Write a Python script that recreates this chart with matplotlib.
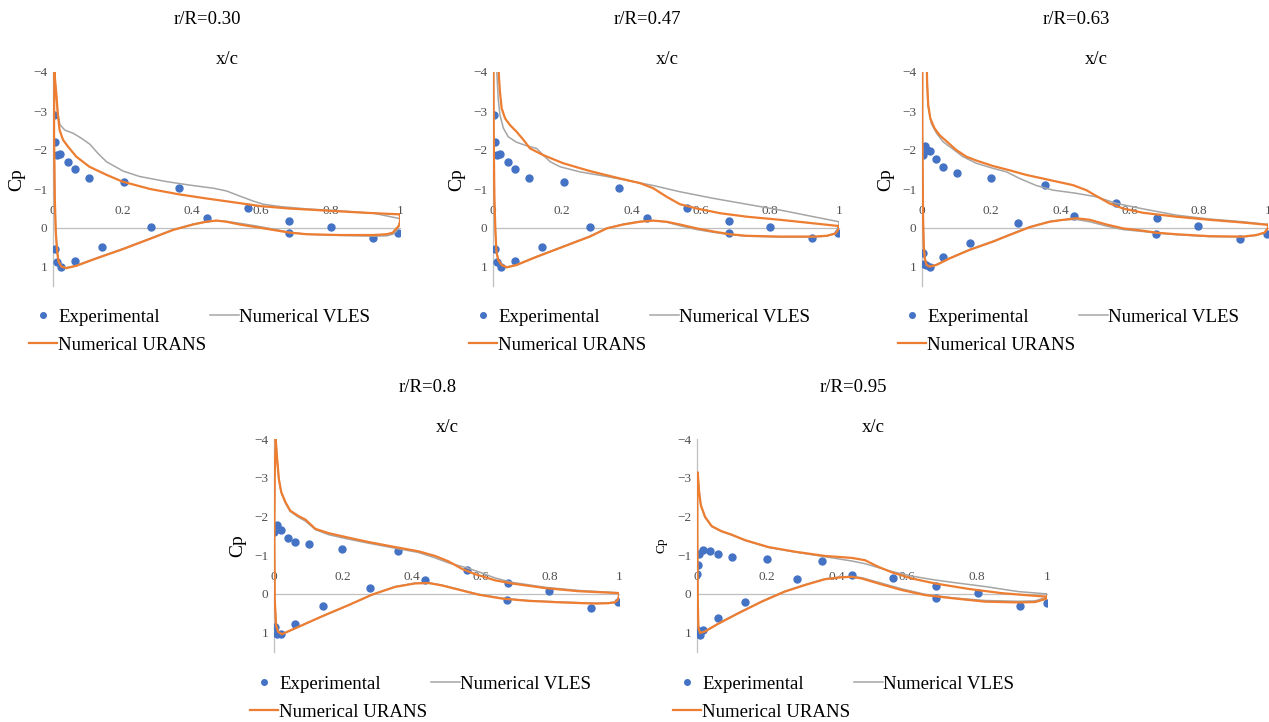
import numpy as np
import matplotlib
matplotlib.use("Agg")
import matplotlib.pyplot as plt
from matplotlib.lines import Line2D

# ---------------- data ----------------
TITLES = ["r/R=0.30", "r/R=0.47", "r/R=0.63", "r/R=0.8", "r/R=0.95"]
X_TICKS = [0, 0.2, 0.4, 0.6, 0.8, 1]
X_TICK_LABELS = ["0", "0.2", "0.4", "0.6", "0.8", "1"]
Y_TICKS = [-4, -3, -2, -1, 0, 1]
Y_TICK_LABELS = ["\u22124", "\u22123", "\u22122", "\u22121", "0", "1"]
LEGEND_LABELS = ["Experimental", "Numerical URANS", "Numerical VLES"]

# r/R = 0.30
EXP_X_30 = [0.002, 0.007, 0.012, 0.021, 0.043, 0.063, 0.104, 0.204, 0.364, 0.561, 0.681, 0.80, 0.995,
            0.922, 0.681, 0.444, 0.281, 0.142, 0.063, 0.022, 0.012, 0.006]
EXP_CP_30 = [-2.91, -2.21, -1.87, -1.91, -1.70, -1.50, -1.28, -1.17, -1.03, -0.50, -0.17, -0.02, 0.14,
             0.25, 0.14, -0.26, -0.02, 0.48, 0.84, 1.00, 0.86, 0.53]
URANS_UP_X_30 = [1.0, 0.90, 0.80, 0.68, 0.60, 0.52, 0.44, 0.365, 0.28, 0.20, 0.155, 0.105, 0.067, 0.043,
                 0.029, 0.019, 0.014, 0.010, 0.006, 0.004]
URANS_UP_CP_30 = [-0.35, -0.39, -0.44, -0.50, -0.56, -0.66, -0.76, -0.86, -1.00, -1.19, -1.36, -1.57, -1.83,
                  -2.09, -2.26, -2.51, -2.90, -3.40, -3.80, -4.00]
URANS_LO_X_30 = [0.003, 0.005, 0.008, 0.012, 0.016, 0.024, 0.038, 0.067, 0.125, 0.202, 0.279, 0.346, 0.404,
                 0.442, 0.471, 0.50, 0.538, 0.587, 0.635, 0.683, 0.731, 0.827, 0.923, 0.962, 0.979, 0.988,
                 0.996, 1.0]
URANS_LO_CP_30 = [-2.5, -0.8, 0.1, 0.61, 0.86, 0.99, 1.03, 0.97, 0.78, 0.54, 0.28, 0.05, -0.09, -0.16,
                  -0.19, -0.16, -0.09, -0.02, 0.05, 0.12, 0.16, 0.18, 0.18, 0.16, 0.12, 0.03, -0.05, -0.15]
VLES_UP_X_30 = [1.0, 0.923, 0.827, 0.731, 0.654, 0.606, 0.577, 0.538, 0.50, 0.462, 0.394, 0.327, 0.25,
                0.202, 0.154, 0.13, 0.106, 0.082, 0.058, 0.034, 0.02, 0.013, 0.008, 0.004]
VLES_UP_CP_30 = [-0.24, -0.38, -0.44, -0.49, -0.55, -0.61, -0.69, -0.82, -0.95, -1.02, -1.10, -1.19, -1.32,
                 -1.46, -1.70, -1.91, -2.15, -2.30, -2.43, -2.51, -2.65, -3.0, -3.5, -4.0]
VLES_LO_X_30 = [0.003, 0.005, 0.008, 0.012, 0.016, 0.024, 0.038, 0.067, 0.125, 0.202, 0.279, 0.346, 0.404,
                0.442, 0.471, 0.50, 0.538, 0.587, 0.635, 0.683, 0.731, 0.827, 0.923, 0.962, 0.979, 0.990,
                0.997, 1.0]
VLES_LO_CP_30 = [-2.5, -0.8, 0.1, 0.6, 0.85, 0.98, 1.02, 0.96, 0.77, 0.53, 0.27, 0.04, -0.10, -0.17,
                 -0.19, -0.17, -0.12, -0.05, 0.03, 0.11, 0.16, 0.19, 0.21, 0.20, 0.16, 0.08, -0.05, -0.20]

# r/R = 0.47
EXP_X_47 = [0.002, 0.007, 0.012, 0.021, 0.043, 0.063, 0.104, 0.204, 0.364, 0.561, 0.681, 0.80, 0.998,
            0.922, 0.681, 0.444, 0.281, 0.142, 0.063, 0.022, 0.012, 0.006]
EXP_CP_47 = [-2.91, -2.21, -1.87, -1.91, -1.70, -1.50, -1.28, -1.17, -1.03, -0.50, -0.17, -0.02, 0.14,
             0.25, 0.14, -0.26, -0.02, 0.48, 0.84, 1.00, 0.86, 0.53]
URANS_UP_X_47 = [1.0, 0.926, 0.83, 0.733, 0.656, 0.589, 0.54, 0.502, 0.463, 0.425, 0.367, 0.28, 0.203,
                 0.145, 0.107, 0.088, 0.068, 0.049, 0.035, 0.025, 0.02, 0.017, 0.015]
URANS_UP_CP_47 = [-0.05, -0.12, -0.21, -0.29, -0.38, -0.50, -0.61, -0.80, -1.02, -1.15, -1.27, -1.46, -1.66,
                  -1.87, -2.04, -2.26, -2.47, -2.64, -2.81, -3.07, -3.5, -3.9, -4.5]
URANS_LO_X_47 = [0.001, 0.002, 0.004, 0.007, 0.010, 0.015, 0.025, 0.040, 0.068, 0.126, 0.203, 0.280, 0.329,
                 0.377, 0.425, 0.463, 0.502, 0.540, 0.589, 0.637, 0.685, 0.733, 0.830, 0.926, 0.964, 0.990,
                 1.0]
URANS_LO_CP_47 = [-4.5, -2.47, -0.76, 0.09, 0.61, 0.82, 0.95, 1.01, 0.95, 0.74, 0.48, 0.22, 0.01, -0.09,
                  -0.16, -0.19, -0.16, -0.09, 0.01, 0.09, 0.16, 0.20, 0.22, 0.22, 0.20, 0.14, 0.02]
VLES_UP_X_47 = [1.0, 0.926, 0.83, 0.733, 0.637, 0.54, 0.463, 0.405, 0.329, 0.251, 0.194, 0.165, 0.145,
                0.126, 0.097, 0.068, 0.044, 0.03, 0.02, 0.015, 0.011, 0.009]
VLES_UP_CP_47 = [-0.16, -0.29, -0.46, -0.61, -0.76, -0.93, -1.09, -1.19, -1.32, -1.44, -1.57, -1.70, -1.87,
                 -2.04, -2.11, -2.20, -2.34, -2.56, -2.90, -3.32, -4.0, -4.5]
VLES_LO_X_47 = [0.001, 0.002, 0.004, 0.007, 0.010, 0.015, 0.025, 0.040, 0.068, 0.126, 0.203, 0.280, 0.329,
                0.377, 0.425, 0.463, 0.502, 0.540, 0.589, 0.637, 0.685, 0.733, 0.830, 0.926, 0.964, 0.990,
                1.0]
VLES_LO_CP_47 = [-4.5, -2.47, -0.76, 0.09, 0.60, 0.81, 0.94, 1.00, 0.94, 0.73, 0.47, 0.21, 0.00, -0.10,
                 -0.17, -0.19, -0.15, -0.06, 0.04, 0.11, 0.17, 0.21, 0.23, 0.23, 0.21, 0.14, -0.10]

# r/R = 0.63
EXP_X_63 = [0.003, 0.010, 0.014, 0.022, 0.041, 0.061, 0.101, 0.198, 0.356, 0.439, 0.560, 0.679, 0.797,
            0.998, 0.918, 0.675, 0.277, 0.140, 0.061, 0.022, 0.012, 0.005, 0.004]
EXP_CP_63 = [-1.87, -2.10, -2.00, -1.97, -1.76, -1.56, -1.42, -1.28, -1.10, -0.32, -0.63, -0.26, -0.06,
             0.16, 0.29, 0.15, -0.12, 0.38, 0.74, 0.99, 0.95, 0.93, 0.63]
URANS_UP_X_63 = [1.0, 0.928, 0.831, 0.735, 0.639, 0.581, 0.542, 0.504, 0.475, 0.436, 0.369, 0.302, 0.253,
                 0.205, 0.157, 0.128, 0.099, 0.07, 0.051, 0.036, 0.024, 0.018, 0.015, 0.013]
URANS_UP_CP_63 = [-0.08, -0.14, -0.21, -0.29, -0.39, -0.50, -0.63, -0.82, -0.97, -1.10, -1.23, -1.36, -1.48,
                  -1.59, -1.73, -1.83, -2.0, -2.23, -2.38, -2.56, -2.81, -3.15, -3.67, -4.5]
URANS_LO_X_63 = [0.001, 0.001, 0.003, 0.005, 0.008, 0.013, 0.022, 0.041, 0.08, 0.138, 0.205, 0.253, 0.311,
                 0.369, 0.408, 0.446, 0.485, 0.533, 0.581, 0.639, 0.677, 0.735, 0.831, 0.928, 0.966, 0.99,
                 1.0]
URANS_LO_CP_63 = [-4.5, -2.47, -0.33, 0.44, 0.78, 0.95, 0.99, 0.95, 0.78, 0.56, 0.35, 0.18, -0.02, -0.16,
                  -0.21, -0.25, -0.21, -0.09, 0.01, 0.07, 0.12, 0.16, 0.21, 0.22, 0.18, 0.12, 0.0]
VLES_UP_X_63 = [1.0, 0.928, 0.831, 0.735, 0.639, 0.562, 0.504, 0.446, 0.379, 0.33, 0.282, 0.244, 0.205,
                0.157, 0.118, 0.09, 0.061, 0.042, 0.027, 0.017, 0.013]
VLES_UP_CP_63 = [-0.09, -0.16, -0.23, -0.33, -0.49, -0.63, -0.80, -0.89, -0.97, -1.09, -1.27, -1.44, -1.53,
                 -1.66, -1.83, -2.02, -2.21, -2.43, -2.68, -3.15, -4.5]
VLES_LO_X_63 = [0.001, 0.001, 0.003, 0.005, 0.008, 0.013, 0.022, 0.041, 0.08, 0.138, 0.205, 0.253, 0.311,
                0.369, 0.408, 0.446, 0.485, 0.533, 0.581, 0.639, 0.677, 0.735, 0.831, 0.928, 0.966, 0.99,
                1.0]
VLES_LO_CP_63 = [-4.5, -2.47, -0.33, 0.44, 0.77, 0.94, 0.98, 0.94, 0.77, 0.55, 0.34, 0.17, -0.03, -0.17,
                 -0.21, -0.22, -0.16, -0.05, 0.04, 0.09, 0.13, 0.17, 0.22, 0.23, 0.19, 0.12, -0.02]

# r/R = 0.8
EXP_X_80 = [0.001, 0.009, 0.020, 0.041, 0.060, 0.102, 0.197, 0.358, 0.438, 0.559, 0.678, 0.797, 0.998,
            0.919, 0.675, 0.279, 0.141, 0.060, 0.021, 0.009, 0.004]
EXP_CP_80 = [-1.60, -1.77, -1.65, -1.44, -1.33, -1.28, -1.17, -1.11, -0.35, -0.61, -0.29, -0.07, 0.22,
             0.36, 0.15, -0.16, 0.31, 0.78, 1.04, 1.04, 0.85]
URANS_UP_X_80 = [1.0, 0.882, 0.786, 0.689, 0.641, 0.583, 0.544, 0.506, 0.467, 0.419, 0.351, 0.274, 0.207,
                 0.158, 0.12, 0.091, 0.071, 0.047, 0.033, 0.021, 0.014, 0.009, 0.005]
URANS_UP_CP_80 = [-0.02, -0.07, -0.15, -0.27, -0.35, -0.51, -0.65, -0.84, -0.98, -1.10, -1.21, -1.34, -1.47,
                  -1.57, -1.68, -1.92, -2.01, -2.15, -2.37, -2.63, -2.97, -3.5, -4.0]
URANS_LO_X_80 = [0.002, 0.001, 0.002, 0.006, 0.012, 0.023, 0.071, 0.139, 0.216, 0.284, 0.351, 0.409, 0.448,
                 0.486, 0.544, 0.593, 0.66, 0.737, 0.834, 0.931, 0.969, 0.988, 0.997, 1.0]
URANS_LO_CP_80 = [-3.0, -1.6, 0.12, 0.81, 0.98, 1.04, 0.85, 0.58, 0.29, 0.02, -0.18, -0.27, -0.28, -0.22,
                  -0.09, 0.02, 0.12, 0.18, 0.22, 0.25, 0.24, 0.22, 0.15, 0.05]
VLES_UP_X_80 = [1.0, 0.882, 0.786, 0.689, 0.641, 0.6, 0.56, 0.506, 0.467, 0.419, 0.351, 0.274, 0.207,
                0.158, 0.12, 0.091, 0.071, 0.047, 0.033, 0.021, 0.014, 0.009, 0.005]
VLES_UP_CP_80 = [-0.03, -0.09, -0.17, -0.30, -0.41, -0.55, -0.67, -0.80, -0.93, -1.07, -1.18, -1.31, -1.43,
                 -1.53, -1.66, -1.88, -1.98, -2.13, -2.35, -2.61, -2.95, -3.5, -4.0]
VLES_LO_X_80 = [0.002, 0.001, 0.002, 0.006, 0.012, 0.023, 0.071, 0.139, 0.216, 0.284, 0.351, 0.409, 0.448,
                0.486, 0.544, 0.593, 0.66, 0.737, 0.834, 0.931, 0.969, 0.988, 0.997, 1.0]
VLES_LO_CP_80 = [-3.0, -1.6, 0.12, 0.81, 0.98, 1.04, 0.85, 0.58, 0.29, 0.02, -0.19, -0.28, -0.29, -0.23,
                 -0.10, 0.01, 0.11, 0.17, 0.21, 0.24, 0.23, 0.21, 0.14, 0.04]

# r/R = 0.95
EXP_X_95 = [0.001, 0.002, 0.006, 0.018, 0.038, 0.059, 0.099, 0.199, 0.356, 0.442, 0.561, 0.682, 0.802,
            1.0, 0.923, 0.682, 0.285, 0.137, 0.059, 0.018, 0.009, 0.001]
EXP_CP_95 = [-0.51, -0.75, -1.02, -1.13, -1.11, -1.02, -0.96, -0.89, -0.86, -0.49, -0.40, -0.21, -0.02,
             0.24, 0.31, 0.11, -0.38, 0.21, 0.63, 0.94, 1.05, 0.94]
URANS_UP_X_95 = [1.0, 0.966, 0.87, 0.775, 0.68, 0.613, 0.556, 0.518, 0.48, 0.442, 0.366, 0.28, 0.204,
                 0.137, 0.099, 0.07, 0.042, 0.023, 0.011, 0.006, 0.002]
URANS_UP_CP_95 = [0.07, 0.05, -0.02, -0.13, -0.27, -0.40, -0.56, -0.70, -0.87, -0.93, -0.98, -1.09, -1.21,
                  -1.39, -1.53, -1.62, -1.75, -1.99, -2.29, -2.64, -3.14]
URANS_LO_X_95 = [0.001, 0.001, 0.002, 0.004, 0.009, 0.023, 0.061, 0.118, 0.185, 0.251, 0.309, 0.366, 0.413,
                 0.442, 0.47, 0.518, 0.585, 0.651, 0.728, 0.823, 0.918, 0.966, 1.0]
URANS_LO_CP_95 = [-2.9, -1.6, 0.11, 0.88, 1.01, 0.97, 0.77, 0.50, 0.20, -0.06, -0.23, -0.38, -0.43, -0.44,
                  -0.40, -0.27, -0.10, 0.03, 0.11, 0.20, 0.22, 0.21, 0.12]
VLES_UP_X_95 = [1.0, 0.918, 0.823, 0.728, 0.68, 0.613, 0.556, 0.518, 0.48, 0.442, 0.366, 0.28, 0.204,
                0.137, 0.099, 0.07, 0.042, 0.023, 0.011, 0.006, 0.002]
VLES_UP_CP_95 = [0.0, -0.06, -0.19, -0.30, -0.36, -0.46, -0.58, -0.68, -0.78, -0.85, -0.96, -1.08, -1.20,
                 -1.38, -1.52, -1.61, -1.74, -1.98, -2.28, -2.63, -3.12]
VLES_LO_X_95 = [0.001, 0.001, 0.002, 0.004, 0.009, 0.023, 0.061, 0.118, 0.185, 0.251, 0.309, 0.366, 0.413,
                0.442, 0.47, 0.518, 0.585, 0.651, 0.728, 0.823, 0.918, 0.966, 1.0]
VLES_LO_CP_95 = [-2.9, -1.6, 0.11, 0.88, 1.0, 0.96, 0.76, 0.49, 0.19, -0.07, -0.24, -0.39, -0.44, -0.45,
                 -0.42, -0.30, -0.13, 0.01, 0.10, 0.17, 0.19, 0.18, 0.08]

PANEL_DATA = [
    (EXP_X_30, EXP_CP_30, URANS_UP_X_30, URANS_UP_CP_30, URANS_LO_X_30, URANS_LO_CP_30,
     VLES_UP_X_30, VLES_UP_CP_30, VLES_LO_X_30, VLES_LO_CP_30),
    (EXP_X_47, EXP_CP_47, URANS_UP_X_47, URANS_UP_CP_47, URANS_LO_X_47, URANS_LO_CP_47,
     VLES_UP_X_47, VLES_UP_CP_47, VLES_LO_X_47, VLES_LO_CP_47),
    (EXP_X_63, EXP_CP_63, URANS_UP_X_63, URANS_UP_CP_63, URANS_LO_X_63, URANS_LO_CP_63,
     VLES_UP_X_63, VLES_UP_CP_63, VLES_LO_X_63, VLES_LO_CP_63),
    (EXP_X_80, EXP_CP_80, URANS_UP_X_80, URANS_UP_CP_80, URANS_LO_X_80, URANS_LO_CP_80,
     VLES_UP_X_80, VLES_UP_CP_80, VLES_LO_X_80, VLES_LO_CP_80),
    (EXP_X_95, EXP_CP_95, URANS_UP_X_95, URANS_UP_CP_95, URANS_LO_X_95, URANS_LO_CP_95,
     VLES_UP_X_95, VLES_UP_CP_95, VLES_LO_X_95, VLES_LO_CP_95),
]

# ---------------- layout / style ----------------
W, H = 1269, 722
# (left px, right px, top px [Cp=-4], bottom px [Cp=1.5])
BOXES = [(53, 400, 72, 286.5), (493, 839, 72, 286.5), (922, 1268, 72, 286.5),
         (274, 619, 439, 652), (697, 1047, 439, 652)]
CP_SIZES = [14, 14, 14, 14, 9.5]

BLUE = "#4472C4"
ORANGE = "#ED7D31"
GRAY = "#A5A5A5"
AXIS_GRAY = "#BFBFBF"
TICK_COLOR = "#505050"
SERIF = ["Liberation Serif", "DejaVu Serif"]

plt.rcParams["font.family"] = SERIF

fig = plt.figure(figsize=(W / 100, H / 100), dpi=100)


def fx(px):
    return px / W


def fy(py):
    return 1 - py / H


for i, (box, data) in enumerate(zip(BOXES, PANEL_DATA)):
    l, r, t, b = box
    ax = fig.add_axes([fx(l), fy(b), (r - l) / W, (b - t) / H])
    (ex, ecp, uux, uucp, ulx, ulcp, vux, vucp, vlx, vlcp) = data

    ax.plot(ex, ecp, ls="none", marker="o", ms=5, color=BLUE, zorder=2)
    vx = np.r_[vux, vlx, vux[:1]]
    vc = np.r_[vucp, vlcp, vucp[:1]]
    ax.plot(vx, vc, color=GRAY, lw=1.1, zorder=3, solid_joinstyle="round")
    ux = np.r_[uux, ulx, uux[:1]]
    uc = np.r_[uucp, ulcp, uucp[:1]]
    ax.plot(ux, uc, color=ORANGE, lw=1.6, zorder=4, solid_joinstyle="round")

    ax.set_xlim(0, 1)
    ax.set_ylim(1.5, -4)
    ax.patch.set_alpha(0)

    for s in ("right", "bottom"):
        ax.spines[s].set_visible(False)
    ax.spines["top"].set_position(("data", 0))
    ax.spines["top"].set_color(AXIS_GRAY)
    ax.spines["top"].set_linewidth(0.9)
    ax.spines["left"].set_color(AXIS_GRAY)
    ax.spines["left"].set_linewidth(0.9)
    ax.spines["top"].set_zorder(1)
    ax.spines["left"].set_zorder(1)

    ax.xaxis.set_ticks_position("top")
    ax.set_xticks(X_TICKS)
    ax.set_xticklabels(X_TICK_LABELS)
    ax.set_yticks(Y_TICKS)
    ax.set_yticklabels(Y_TICK_LABELS)
    ax.tick_params(axis="x", length=0, pad=8, labelsize=9.5, labelcolor=TICK_COLOR)
    ax.tick_params(axis="y", length=0, pad=4, labelsize=9.5, labelcolor=TICK_COLOR)

    cx = (l + r) / 2
    fig.text(fx(cx - 19), fy(t - 52), TITLES[i], ha="center", va="center", fontsize=13.5)
    fig.text(fx(cx + 1), fy(t - 12), "x/c", ha="center", va="center", fontsize=13.5)
    fig.text(fx(l - 36), fy((t + b) / 2), "Cp", ha="center", va="center", rotation=90,
             fontsize=CP_SIZES[i])

    handles = [Line2D([], [], ls="none", marker="o", ms=4, color=BLUE),
               Line2D([], [], color=ORANGE, lw=1.6),
               Line2D([], [], color=GRAY, lw=1.1)]
    ax.legend(handles, LEGEND_LABELS, loc="center left",
              bbox_to_anchor=(fx(l - 24), fy(t + 259)), bbox_transform=fig.transFigure,
              ncol=2, frameon=False, borderpad=0, borderaxespad=0, handlelength=1.5,
              handletextpad=0.05, columnspacing=0.2, labelspacing=0.56,
              prop={"family": SERIF, "size": 13.6})

fig.savefig("out.png", dpi=100)
